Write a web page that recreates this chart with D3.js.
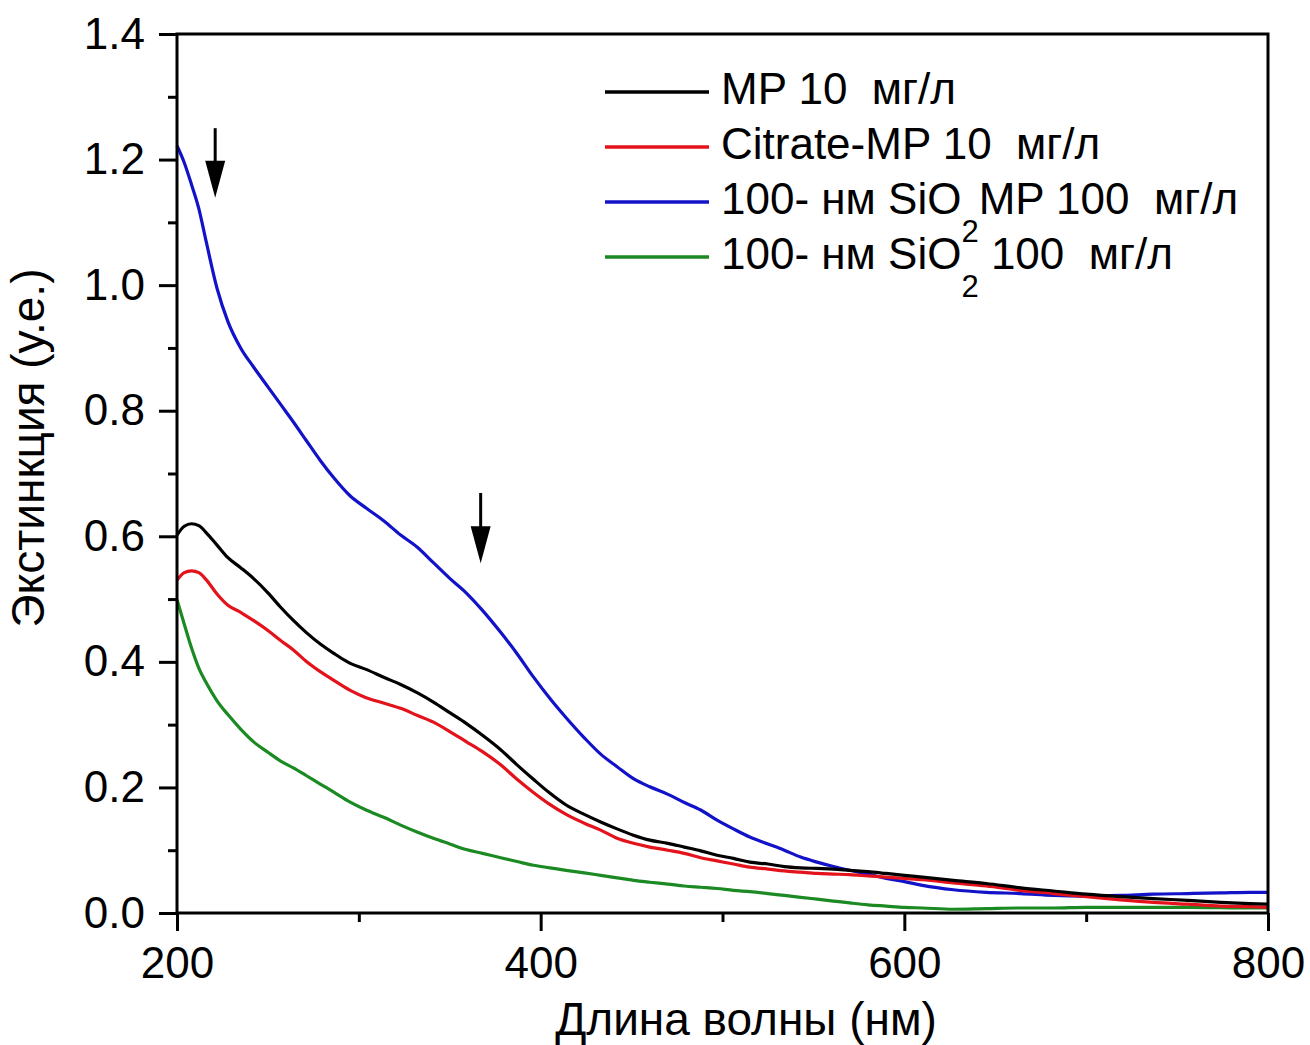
<!DOCTYPE html>
<html>
<head>
<meta charset="utf-8">
<script src="https://cdn.jsdelivr.net/npm/d3@7/dist/d3.min.js"></script>
<style>
  body { margin: 0; background: #fff; }
  svg text { font-family: "Liberation Sans", Arial, sans-serif; fill: #000; }
</style>
</head>
<body>
<div id="chart"></div>
<script>
// wavelength grid (nm) shared by all four spectra
var wavelength = [200, 204, 208, 212, 216, 222, 228, 235, 242, 250, 257, 264, 271, 279, 286, 295,
  304, 314, 323, 332, 341, 350, 359, 368, 378, 387, 396, 405, 414, 424, 433, 442, 451, 460,
  470, 479, 488, 497, 506, 515, 525, 534, 543, 552, 561, 570, 580, 590, 600, 610, 627, 645,
  664, 682, 700, 719, 737, 756, 774, 790, 800];

// extinction values
var extMP = [0.602, 0.616, 0.620, 0.617, 0.606, 0.586, 0.566, 0.550, 0.533, 0.510, 0.487, 0.466,
  0.447, 0.428, 0.414, 0.398, 0.388, 0.375, 0.364, 0.351, 0.336, 0.319, 0.302, 0.283, 0.260,
  0.236, 0.213, 0.191, 0.172, 0.157, 0.145, 0.134, 0.124, 0.116, 0.111, 0.105, 0.099, 0.092,
  0.087, 0.081, 0.078, 0.074, 0.072, 0.071, 0.070, 0.068, 0.066, 0.063, 0.060, 0.057, 0.052,
  0.047, 0.040, 0.035, 0.030, 0.026, 0.023, 0.020, 0.017, 0.015, 0.014];

var extCitrate = [0.530, 0.542, 0.545, 0.542, 0.531, 0.508, 0.490, 0.479, 0.466, 0.450, 0.434,
  0.419, 0.401, 0.384, 0.371, 0.355, 0.343, 0.334, 0.326, 0.315, 0.304, 0.289, 0.273, 0.257,
  0.236, 0.213, 0.192, 0.173, 0.157, 0.143, 0.132, 0.119, 0.111, 0.105, 0.100, 0.095, 0.088,
  0.083, 0.078, 0.073, 0.070, 0.067, 0.065, 0.063, 0.062, 0.061, 0.059, 0.057, 0.055, 0.053,
  0.048, 0.043, 0.036, 0.031, 0.026, 0.021, 0.017, 0.014, 0.011, 0.010, 0.009];

var extSiO2MP = [1.222, 1.195, 1.160, 1.122, 1.070, 0.995, 0.942, 0.900, 0.870, 0.838, 0.810,
  0.782, 0.753, 0.720, 0.694, 0.665, 0.645, 0.624, 0.602, 0.583, 0.558, 0.533, 0.510, 0.482,
  0.447, 0.413, 0.376, 0.342, 0.311, 0.279, 0.253, 0.233, 0.214, 0.201, 0.189, 0.176, 0.164,
  0.148, 0.134, 0.121, 0.110, 0.100, 0.089, 0.081, 0.074, 0.068, 0.062, 0.055, 0.050, 0.044,
  0.037, 0.033, 0.031, 0.028, 0.027, 0.028, 0.030, 0.031, 0.032, 0.033, 0.033];

var extSiO2 = [0.499, 0.460, 0.422, 0.390, 0.367, 0.338, 0.316, 0.293, 0.273, 0.256, 0.242, 0.231,
  0.219, 0.205, 0.193, 0.177, 0.164, 0.152, 0.140, 0.129, 0.119, 0.110, 0.101, 0.095, 0.088,
  0.082, 0.076, 0.072, 0.068, 0.064, 0.060, 0.056, 0.052, 0.049, 0.046, 0.043, 0.041, 0.039,
  0.036, 0.034, 0.031, 0.028, 0.025, 0.022, 0.019, 0.016, 0.013, 0.011, 0.009, 0.008, 0.006,
  0.007, 0.008, 0.008, 0.009, 0.009, 0.009, 0.009, 0.0085, 0.008, 0.008];

// legend labels, split so the "2" of SiO2 can be a subscript
var labelMP = [["MP 10  мг/л", false]];
var labelCitrate = [["Citrate-MP 10  мг/л", false]];
var labelSiO2MP = [["100- нм SiO", false], ["2", true], ["MP 100  мг/л", false]];
var labelSiO2 = [["100- нм SiO", false], ["2", true], [" 100  мг/л", false]];

var seriesColors = ["#000000", "#e3121b", "#1212c8", "#1b8a23"];

var xMajorTicks = [200, 400, 600, 800];
var xMinorTicks = [300, 500, 700];
var yMajorTicks = [0, 0.2, 0.4, 0.6, 0.8, 1.0, 1.2, 1.4];
var yMinorTicks = [0.1, 0.3, 0.5, 0.7, 0.9, 1.1, 1.3];

// arrows marking the absorption features
var arrowX = [221, 367];
var arrowTop = [1.25, 0.669];
var arrowTip = [1.139, 0.557];

var xTitle = "Длина волны (нм)";
var yTitle = "Экстинкция (у.е.)";

var margin = {top: 34, right: 42, bottom: 132, left: 177};
var width = 1310 - margin.left - margin.right,
    height = 1045 - margin.top - margin.bottom;

var svg = d3.select("#chart").append("svg")
    .attr("width", 1310)
    .attr("height", 1045);

var g = svg.append("g")
    .attr("transform", "translate(" + margin.left + "," + margin.top + ")");

var x = d3.scaleLinear().domain([200, 800]).range([0, width]);
var y = d3.scaleLinear().domain([0, 1.4]).range([height, 0]);

var series = [
  {values: extMP, label: labelMP},
  {values: extCitrate, label: labelCitrate},
  {values: extSiO2MP, label: labelSiO2MP},
  {values: extSiO2, label: labelSiO2}
];

// spectra
var line = d3.line()
    .x(function (d) { return x(d[0]); })
    .y(function (d) { return y(d[1]); })
    .curve(d3.curveMonotoneX);

// draw green first so the others sit on top, like the original
[3, 2, 1, 0].forEach(function (i) {
  g.append("path")
      .datum(d3.zip(wavelength, series[i].values))
      .attr("fill", "none")
      .attr("stroke", seriesColors[i])
      .attr("stroke-width", 3.2)
      .attr("stroke-linejoin", "round")
      .attr("d", line);
});

// axes
function styleAxis(sel) {
  sel.select(".domain").remove();
  sel.selectAll(".tick line").attr("stroke", "#000").attr("stroke-width", 3);
  sel.selectAll(".tick text").attr("fill", "#000");
}

g.append("g")
    .attr("transform", "translate(0," + height + ")")
    .call(d3.axisBottom(x).tickValues(xMinorTicks).tickSize(9).tickFormat(""))
    .call(styleAxis);

g.append("g")
    .attr("transform", "translate(0," + height + ")")
    .call(d3.axisBottom(x).tickValues(xMajorTicks).tickSize(18).tickPadding(16)
        .tickFormat(d3.format("d")))
    .call(styleAxis)
    .selectAll("text")
    .style("font-size", "44px");

g.append("g")
    .call(d3.axisLeft(y).tickValues(yMinorTicks).tickSize(9).tickFormat(""))
    .call(styleAxis);

g.append("g")
    .call(d3.axisLeft(y).tickValues(yMajorTicks).tickSize(18).tickPadding(14)
        .tickFormat(d3.format(".1f")))
    .call(styleAxis)
    .selectAll("text")
    .style("font-size", "44px");

// frame
g.append("rect")
    .attr("width", width)
    .attr("height", height)
    .attr("fill", "none")
    .attr("stroke", "#000")
    .attr("stroke-width", 3);

// axis titles
svg.append("text")
    .attr("x", 746)
    .attr("y", 1035)
    .attr("text-anchor", "middle")
    .style("font-size", "46px")
    .text(xTitle);

svg.append("text")
    .attr("transform", "translate(44,448) rotate(-90)")
    .attr("text-anchor", "middle")
    .style("font-size", "46px")
    .text(yTitle);

// arrows
arrowX.forEach(function (ax, i) {
  var px = x(ax), top = y(arrowTop[i]), tip = y(arrowTip[i]);
  g.append("line")
      .attr("x1", px).attr("x2", px)
      .attr("y1", top).attr("y2", tip - 30)
      .attr("stroke", "#000")
      .attr("stroke-width", 3);
  g.append("path")
      .attr("d", "M" + (px - 10) + "," + (tip - 37) + "L" + (px + 10) + "," + (tip - 37) +
          "L" + px + "," + tip + "Z")
      .attr("fill", "#000");
});

// legend
var legend = svg.append("g").attr("transform", "translate(605,92)");
series.forEach(function (s, i) {
  var row = legend.append("g").attr("transform", "translate(0," + (i * 55) + ")");
  row.append("line")
      .attr("x1", 0).attr("x2", 104)
      .attr("stroke", seriesColors[i])
      .attr("stroke-width", 3.5);
  var t = row.append("text")
      .attr("x", 116)
      .attr("y", 12)
      .style("font-size", "44px")
      .style("white-space", "pre");
  s.label.forEach(function (part, j) {
    var prevSub = j > 0 && s.label[j - 1][1];
    t.append("tspan")
        .attr("dy", part[1] ? 28 : (prevSub ? -28 : 0))
        .style("font-size", part[1] ? "31px" : null)
        .text(part[0]);
  });
});
</script>
</body>
</html>
